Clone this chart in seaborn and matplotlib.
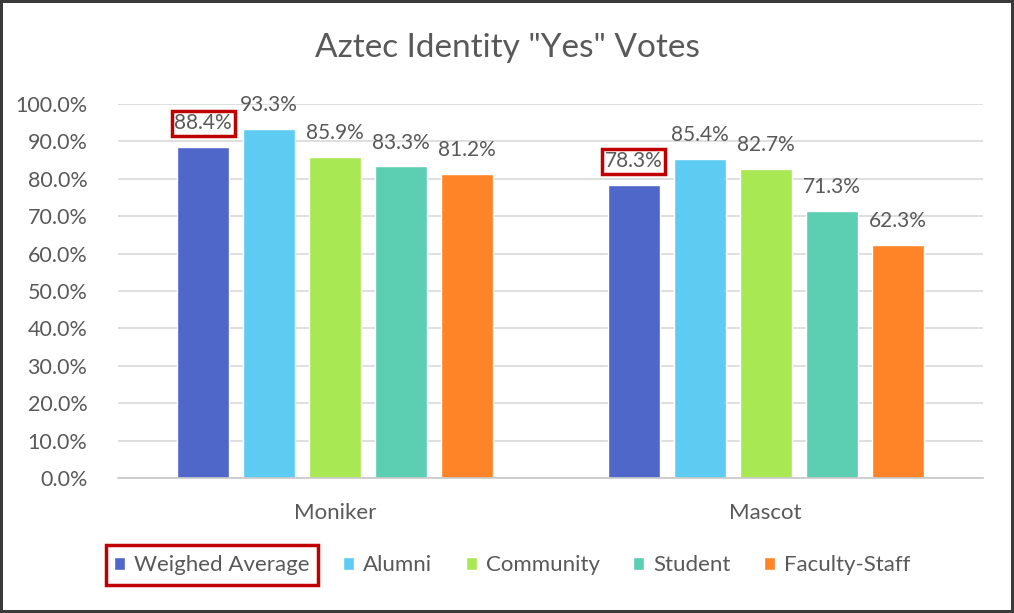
import numpy as np
import pandas as pd
import matplotlib
matplotlib.use("Agg")
import matplotlib.pyplot as plt
import seaborn as sns
from matplotlib.patches import Rectangle

# chart values
questions = ["Moniker", "Mascot"]
groups = ["Weighed Average", "Alumni", "Community", "Student", "Faculty-Staff"]
moniker_yes = [88.4, 93.3, 85.9, 83.3, 81.2]
mascot_yes = [78.3, 85.4, 82.7, 71.3, 62.3]
colors = ["#4F67C9", "#5DCBF2", "#A8E852", "#5CCEB1", "#FF8427"]
yticks = np.arange(0, 101, 10)

# long form table for seaborn
rows = []
for q, vals in zip(questions, [moniker_yes, mascot_yes]):
    for g, v in zip(groups, vals):
        rows.append({"question": q, "group": g, "value": v})
df = pd.DataFrame(rows)

sns.set_style("white")
plt.rcParams["font.family"] = ["Lato", "DejaVu Sans"]
text_col = "#595959"

fig = plt.figure(figsize=(10.14, 6.13), dpi=100)
fig.patch.set_edgecolor("#3a3a3a")
fig.patch.set_linewidth(3)
ax = fig.add_axes([118 / 1014, 1 - 478 / 613, 865 / 1014, 374 / 613])

sns.barplot(data=df, x="question", y="value", hue="group", palette=colors,
            hue_order=groups, order=questions, width=0.767, gap=0.21,
            saturation=1, ax=ax, legend=True)

ax.set_xlim(-0.505, 1.505)
ax.set_ylim(0, 100)
ax.set_yticks(yticks)
ax.set_yticklabels([f"{t:.1f}%" for t in yticks])
ax.yaxis.grid(True, color="#d9d9d9", linewidth=1.2)
ax.set_axisbelow(True)
for s in ["top", "right", "left"]:
    ax.spines[s].set_visible(False)
ax.spines["bottom"].set_color("#c8c8c8")
ax.spines["bottom"].set_linewidth(1.2)
ax.tick_params(axis="y", length=0, labelsize=15.5, colors=text_col, pad=22)
ax.tick_params(axis="x", length=0, labelsize=16, colors=text_col, pad=18)
ax.set_xlabel("")
ax.set_ylabel("")

# title is centred on the whole figure, not the plot area
fig.suptitle('Aztec Identity "Yes" Votes', x=0.5, y=1 - 48 / 613, va="center",
             fontsize=24, color=text_col)

# data labels, first bar of each group boxed in red
for i, cont in enumerate(ax.containers):
    for j, bar in enumerate(cont):
        v = bar.get_height()
        t = ax.annotate(f"{v:.1f}%", (bar.get_x() + bar.get_width() / 2, v),
                        xytext=(0, 10), textcoords="offset points",
                        ha="center", va="bottom", fontsize=15, color=text_col)
        if i == 0:
            t.set_bbox(dict(boxstyle="square,pad=0.12", facecolor="none",
                            edgecolor="#c00000", linewidth=2.5))

# legend along the bottom
handles, labels = ax.get_legend_handles_labels()
ax.legend_.remove()
leg = fig.legend(handles, labels, loc="center", bbox_to_anchor=(0.505, 0.078),
                 ncol=5, frameon=False, fontsize=16, handlelength=0.5,
                 handleheight=0.5, handletextpad=0.4, columnspacing=1.5,
                 labelcolor=text_col)

# red box around the first legend entry
fig.canvas.draw()
r = fig.canvas.get_renderer()
h_box = leg.legend_handles[0].get_window_extent(r)
t_box = leg.get_texts()[0].get_window_extent(r)
x0 = h_box.x0 - 8
x1 = t_box.x1 + 8
y0 = min(h_box.y0, t_box.y0) - 10
y1 = max(h_box.y1, t_box.y1) + 10
inv = fig.transFigure.inverted()
(fx0, fy0), (fx1, fy1) = inv.transform([(x0, y0), (x1, y1)])
fig.patches.append(Rectangle((fx0, fy0), fx1 - fx0, fy1 - fy0, transform=fig.transFigure,
                             fill=False, edgecolor="#c00000", linewidth=2.5))

fig.savefig("out.png", dpi=100, edgecolor=fig.get_edgecolor())
